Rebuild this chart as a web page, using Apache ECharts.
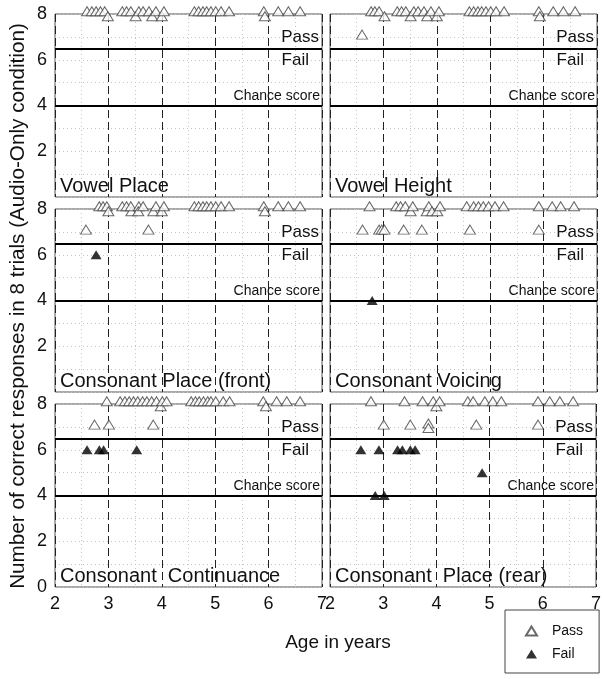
<!DOCTYPE html>
<html><head><meta charset="utf-8">
<script src="https://cdn.jsdelivr.net/npm/echarts@6/dist/echarts.min.js"></script>
<style>html,body{margin:0;padding:0;background:#fff}#c{width:604px;height:679px}</style>
</head><body><div id="c"></div>
<script>
// ---------- DATA ----------
const panelTitles = ['Vowel Place', 'Vowel Height', 'Consonant Place (front)', 'Consonant Voicing', 'Consonant  Continuance', 'Consonant  Place (rear)'];
const xTicks = [2, 3, 4, 5, 6, 7];
const yTicks = [0, 2, 4, 6, 8];
const passLevel = 6.5;
const chanceLevel = 4;

// [age in years, score] ; 8.12 / 7.9 = score 8 drawn stacked (top / offset)
const vowelPlacePass = [[2.60,8.12],[2.69,8.12],[2.77,8.12],[2.85,8.12],[2.93,8.12],[2.99,7.9],
  [3.26,8.12],[3.34,8.12],[3.42,8.12],[3.51,7.9],[3.57,8.12],[3.65,8.12],[3.76,8.12],[3.82,7.9],[3.89,8.12],[4.00,7.9],[4.04,8.12],
  [4.61,8.12],[4.69,8.12],[4.77,8.12],[4.84,8.12],[4.92,8.12],[5.01,8.12],[5.11,8.12],[5.26,8.12],
  [5.91,8.12],[5.93,7.9],[6.18,8.12],[6.37,8.12],[6.59,8.12]];
const vowelPlaceFail = [];

const vowelHeightPass = [[2.60,7.1],[2.77,8.12],[2.84,8.12],[2.92,8.12],[3.02,7.9],
  [3.26,8.12],[3.34,8.12],[3.42,8.12],[3.51,7.9],[3.57,8.12],[3.65,8.12],[3.76,8.12],[3.82,7.9],[3.89,8.12],[4.00,7.9],[4.04,8.12],
  [4.61,8.12],[4.69,8.12],[4.77,8.12],[4.84,8.12],[4.92,8.12],[5.01,8.12],[5.11,8.12],[5.26,8.12],
  [5.91,8.12],[5.93,7.9],[6.18,8.12],[6.37,8.12],[6.59,8.12]];
const vowelHeightFail = [];

const consFrontPass = [[2.58,7.1],[3.75,7.1],[2.83,8.12],[2.90,8.12],[2.97,8.12],[3.00,7.9],
  [3.26,8.12],[3.34,8.12],[3.43,7.9],[3.42,8.12],[3.57,8.12],[3.56,7.9],[3.65,8.12],[3.84,7.9],[3.89,8.12],[4.00,7.9],[4.04,8.12],
  [4.61,8.12],[4.69,8.12],[4.77,8.12],[4.84,8.12],[4.92,8.12],[5.01,8.12],[5.11,8.12],[5.26,8.12],
  [5.91,8.12],[5.93,7.9],[6.18,8.12],[6.37,8.12],[6.59,8.12]];
const consFrontFail = [[2.77,6]];

const voicingPass = [[2.74,8.12],[3.24,8.12],[3.32,8.12],[3.41,8.12],[3.51,7.9],[3.55,8.12],[3.81,7.9],[3.85,8.12],[3.91,7.9],[4.01,7.9],[4.06,8.12],
  [4.56,8.12],[4.69,8.12],[4.78,8.12],[4.87,8.12],[4.97,8.12],[5.09,8.12],[5.25,8.12],
  [5.91,8.12],[6.16,8.12],[6.32,8.12],[6.57,8.12],
  [2.61,7.1],[2.92,7.1],[2.97,7.1],[3.02,7.1],[3.38,7.1],[3.72,7.1],[4.62,7.1],[5.91,7.1]];
const voicingFail = [[2.79,4]];

const continuancePass = [[2.97,8.12],[3.22,8.12],[3.31,8.12],[3.39,8.12],[3.47,8.12],[3.55,8.12],[3.64,8.12],[3.72,8.12],[3.81,8.12],[3.90,8.12],[3.98,7.9],[4.01,8.12],[4.09,8.12],
  [4.55,8.12],[4.63,8.12],[4.70,8.12],[4.78,8.12],[4.86,8.12],[4.92,8.12],[5.01,8.12],[5.15,8.12],[5.27,8.12],
  [5.90,8.12],[5.95,7.9],[6.15,8.12],[6.34,8.12],[6.59,8.12],
  [2.74,7.1],[3.01,7.1],[3.84,7.1]];
const continuanceFail = [[2.60,6],[2.83,6],[2.91,6],[3.53,6]];

const rearPass = [[2.77,8.12],[3.40,8.12],[3.74,8.12],[3.94,8.12],[4.00,7.9],[4.06,8.12],
  [4.59,8.12],[4.69,8.12],[4.91,8.12],[5.06,8.12],[5.22,8.12],
  [5.91,8.12],[6.13,8.12],[6.32,8.12],[6.57,8.12],
  [3.01,7.1],[3.51,7.1],[3.85,7.15],[3.85,6.95],[4.75,7.1],[5.91,7.1]];
const rearFail = [[2.58,6],[2.92,6],[3.27,6],[3.36,6],[3.51,6],[3.60,6],[4.86,5],[2.85,4],[3.02,4]];

const passSets = [vowelPlacePass, vowelHeightPass, consFrontPass, voicingPass, continuancePass, rearPass];
const failSets = [vowelPlaceFail, vowelHeightFail, consFrontFail, voicingFail, continuanceFail, rearFail];

// ---------- LAYOUT ----------
const FONT = '"Liberation Sans", Arial, sans-serif';
const gridLeft = [55, 330];
const gridTop = [14, 209, 404];
const GW = 267, GH = 183;

const grids = [], xAxes = [], yAxes = [], series = [], titles = [];
for (let i = 0; i < 6; i++) {
  const col = i % 2, row = Math.floor(i / 2);
  grids.push({left: gridLeft[col], top: gridTop[row], width: GW, height: GH,
    show: true, borderColor: '#555', borderWidth: 1, backgroundColor: 'transparent'});
  xAxes.push({type: 'value', gridIndex: i, min: xTicks[0], max: xTicks[xTicks.length - 1], interval: 1,
    axisLine: {show: false}, axisTick: {show: false},
    axisLabel: {show: row === 2, fontSize: 18, color: '#111', margin: 8, fontFamily: FONT},
    splitLine: {show: true, lineStyle: {color: '#222', type: [8, 4], width: 1}},
    minorTick: {show: false, splitNumber: 2},
    minorSplitLine: {show: true, lineStyle: {color: '#c4c4c4', type: [1, 3], width: 1}}
  });
  yAxes.push({type: 'value', gridIndex: i, min: yTicks[0], max: yTicks[yTicks.length - 1], interval: 2,
    axisLine: {show: false}, axisTick: {show: false},
    axisLabel: {show: col === 0, showMinLabel: row === 2, fontSize: 18, color: '#111', margin: 8, fontFamily: FONT},
    splitLine: {show: true, lineStyle: {color: '#c4c4c4', type: [1, 3], width: 1}},
    minorTick: {show: false, splitNumber: 2},
    minorSplitLine: {show: true, lineStyle: {color: '#c4c4c4', type: [1, 3], width: 1}}
  });
  series.push({
    type: 'scatter', name: 'Pass', xAxisIndex: i, yAxisIndex: i, data: passSets[i],
    symbol: 'triangle', symbolSize: [11, 9], clip: false, z: 5,
    itemStyle: {color: '#fff', borderColor: '#444', borderWidth: 1},
    emphasis: {disabled: true}, animation: false,
    markLine: {
      silent: true, symbol: ['none', 'none'], animation: false,
      lineStyle: {color: '#000', width: 2, type: 'solid'},
      label: {color: '#111', fontFamily: FONT, fontSize: 17},
      data: [
        {yAxis: passLevel, label: {formatter: 'Pass', position: 'insideEndTop', distance: 3}},
        {yAxis: passLevel, label: {formatter: 'Fail', position: 'insideEndBottom', distance: 3, padding: [0, 10, 0, 0]}},
        {yAxis: chanceLevel, label: {formatter: 'Chance score', position: 'insideEndTop', fontSize: 14, distance: 2}}
      ]
    }
  });
  series.push({
    type: 'scatter', name: 'Fail', xAxisIndex: i, yAxisIndex: i, data: failSets[i],
    symbol: 'triangle', symbolSize: [11, 9], clip: false, z: 6,
    itemStyle: {color: '#000'}, emphasis: {disabled: true}, animation: false
  });
  titles.push({text: panelTitles[i], left: gridLeft[col] + 5, top: gridTop[row] + GH - 21,
    textStyle: {fontSize: 20, fontWeight: 'normal', color: '#111', fontFamily: FONT}, padding: 0});
}

const chart = echarts.init(document.getElementById('c'), null, {renderer: 'canvas'});
chart.setOption({
  animation: false,
  backgroundColor: '#fff',
  textStyle: {fontFamily: FONT},
  title: titles,
  grid: grids, xAxis: xAxes, yAxis: yAxes, series: series,
  legend: {
    data: [{name: 'Pass', icon: 'triangle'}, {name: 'Fail', icon: 'triangle'}],
    orient: 'vertical', left: 505, top: 610,
    padding: [14, 16, 12, 20], itemGap: 9, itemWidth: 11, itemHeight: 9,
    borderColor: '#444', borderWidth: 1, backgroundColor: '#fff',
    textStyle: {fontSize: 14, color: '#111', fontFamily: FONT, padding: [0, 0, 0, 10]},
    selectedMode: false
  },
  graphic: [
    {type: 'text', x: 18, y: 306, rotation: Math.PI / 2,
      style: {text: 'Number of correct responses in 8 trials (Audio-Only condition)', font: '20.7px ' + FONT,
        fill: '#111', textAlign: 'center', textVerticalAlign: 'middle'}},
    {type: 'text', x: 338, y: 643,
      style: {text: 'Age in years', font: '19px ' + FONT, fill: '#111', textAlign: 'center', textVerticalAlign: 'middle'}}
  ]
});
</script></body></html>
